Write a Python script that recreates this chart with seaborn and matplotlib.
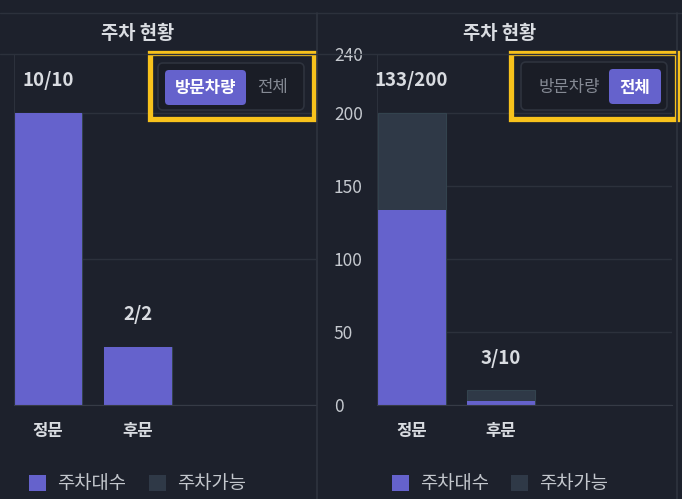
import matplotlib
matplotlib.use("Agg")
import matplotlib.pyplot as plt
import seaborn as sns
from matplotlib.patches import Patch, FancyBboxPatch, Rectangle

# ---- data ----
gates = ["정문", "후문"]
visitor_parked = [10, 2]
visitor_total = [10, 2]
all_parked = [133, 3]
all_total = [200, 10]
left_yticks = [0, 5, 10]
right_yticks = [0, 50, 100, 150, 200, 240]
legend_labels = ["주차대수", "주차가능"]
panel_title = "주차 현황"
toggle_labels = ["방문차량", "전체"]

# ---- style ----
BG = "#1d212c"
LINE = "#2c313c"
USED = "#6562cc"
CAP = "#2f3947"
TEXT = "#d9dce1"
MUTED = "#858a94"
YELLOW = "#f8c21c"
W, H = 682, 499

sns.set_style("dark")
plt.rcParams["font.family"] = ["Noto Sans CJK KR", "DejaVu Sans"]


def px_box(x0, y0, x1, y1):
    return [x0 / W, 1 - y1 / H, (x1 - x0) / W, (y1 - y0) / H]


def draw_panel(ax, parked, total, ylim, yticks, xlim, show_labels):
    sns.barplot(x=gates, y=total, color=CAP, saturation=1, width=0.764,
                errorbar=None, ax=ax, edgecolor="#33434e", linewidth=0.8)
    sns.barplot(x=gates, y=parked, color=USED, saturation=1, width=0.764,
                errorbar=None, ax=ax, linewidth=0)
    ax.set_facecolor(BG)
    ax.set_xlim(*xlim)
    ax.set_ylim(*ylim)
    ax.set_yticks(yticks)
    ax.grid(axis="y", color=LINE, linewidth=1)
    ax.grid(axis="x", visible=False)
    ax.set_axisbelow(True)
    ax.set_xlabel("")
    ax.set_ylabel("")
    for s in ["top", "right"]:
        ax.spines[s].set_visible(False)
    ax.spines["left"].set_color(LINE)
    ax.spines["bottom"].set_color("#363b46")
    ax.tick_params(axis="x", length=0, pad=12, labelsize=12, labelcolor=TEXT)
    for lab in ax.get_xticklabels():
        lab.set_fontweight("bold")
    if show_labels:
        ax.tick_params(axis="y", length=0, pad=31, labelsize=12.5, labelcolor="#c5c9cf")
        for lab in ax.get_yticklabels():
            lab.set_horizontalalignment("left")
    else:
        ax.set_yticklabels([])
        ax.tick_params(axis="y", length=0)
    for i, (p, t) in enumerate(zip(parked, total)):
        ax.annotate(f"{p}/{t}", (i, t), xytext=(0, 32), textcoords="offset pixels",
                    ha="center", va="center", fontsize=13.5, fontweight="bold", color=TEXT)


fig = plt.figure(figsize=(6.82, 4.99), dpi=100, facecolor=BG)

ax1 = fig.add_axes(px_box(14, 54, 316, 405))
draw_panel(ax1, visitor_parked, visitor_total, (0, 12.02), left_yticks,
           (-0.378, 2.978), False)

ax2 = fig.add_axes(px_box(377, 54, 672, 405))
draw_panel(ax2, all_parked, all_total, (0, 240), right_yticks,
           (-0.388, 2.927), True)

handles = [Patch(facecolor=USED, edgecolor="none"), Patch(facecolor=CAP, edgecolor="none")]
for ax, cx in [(ax1, 137.5), (ax2, 500)]:
    ax.legend(handles, legend_labels, loc="center", ncol=2,
              bbox_to_anchor=(cx / W, 1 - 484 / H), bbox_transform=fig.transFigure,
              frameon=False, fontsize=13.5, labelcolor="#c3c7cd",
              handlelength=0.9, handleheight=0.9, handletextpad=0.6,
              columnspacing=1.2)

# ---- overlay: panel frames, titles, toggles ----
ov = fig.add_axes([0, 0, 1, 1], zorder=5)
ov.set_xlim(0, W)
ov.set_ylim(H, 0)
ov.axis("off")
ov.patch.set_alpha(0)

ov.plot([0, W], [13, 13], color=LINE, lw=1)
ov.plot([0, 316], [54, 54], color=LINE, lw=1)
ov.plot([318, 676], [54, 54], color=LINE, lw=1)
ov.plot([316.5, 316.5], [13, H], color="#2f343f", lw=1.2)
ov.plot([676.5, 676.5], [13, H], color="#2f343f", lw=1.2)

for cx in [137.5, 500]:
    ov.text(cx, 33.5, panel_title, ha="center", va="center", fontsize=13.5,
            fontweight="bold", color=TEXT)

# toggles: (yellow frame, inner box, active button, text centers, active index)
toggles = [
    ((149.5, 52.5, 313.5, 118.5), (158, 63, 304, 110), (165, 70, 246, 105), (205.5, 272), 0),
    ((510.5, 52.5, 677, 118.5), (521, 62, 667, 110), (609, 69, 661, 104), (569, 635), 1),
]
for frame, inner, btn, centers, active in toggles:
    x0, y0, x1, y1 = inner
    ov.add_patch(FancyBboxPatch((x0, y0), x1 - x0, y1 - y0,
                                boxstyle="round,pad=0,rounding_size=5",
                                facecolor="#1a1d26", edgecolor="#2e333e", lw=1.2))
    x0, y0, x1, y1 = btn
    ov.add_patch(FancyBboxPatch((x0, y0), x1 - x0, y1 - y0,
                                boxstyle="round,pad=0,rounding_size=4",
                                facecolor=USED, edgecolor="none"))
    for k, (lab, cx) in enumerate(zip(toggle_labels, centers)):
        is_on = k == active
        ov.text(cx, 87.5, lab, ha="center", va="center", fontsize=12,
                fontweight="bold" if is_on else "normal",
                color="white" if is_on else MUTED)
    x0, y0, x1, y1 = frame
    ov.add_patch(Rectangle((x0, y0), x1 - x0, y1 - y0, facecolor="none",
                           edgecolor=YELLOW, lw=3.8))

fig.savefig("out.png", dpi=100, facecolor=BG)
